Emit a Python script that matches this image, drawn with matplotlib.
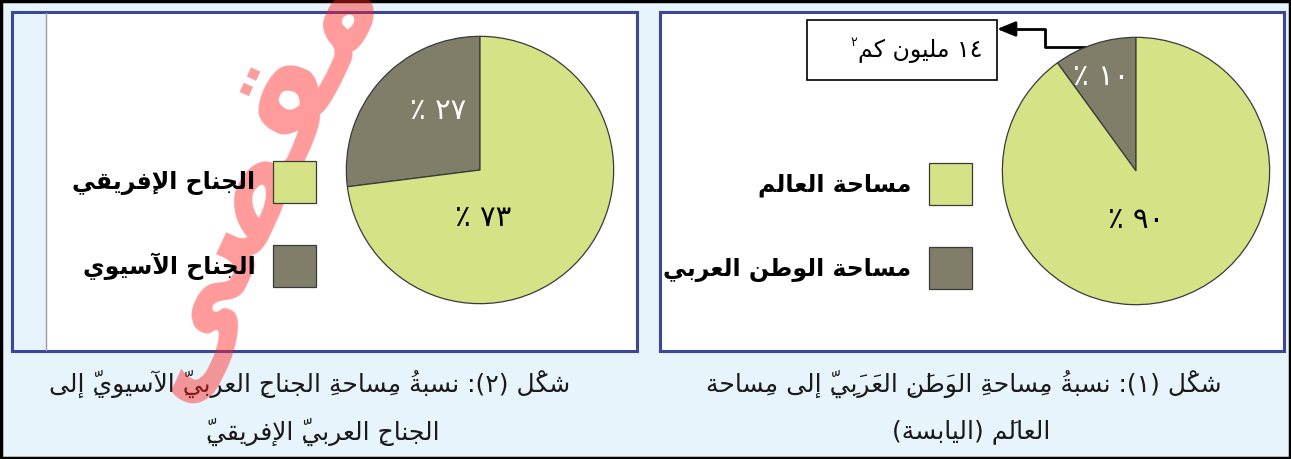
import unicodedata
import matplotlib
matplotlib.use('Agg')
import matplotlib.pyplot as plt
from matplotlib.patches import Rectangle

plt.rcParams['font.family'] = ['DejaVu Sans']

# data
fig1_labels = ['مساحة العالم', 'مساحة الوطن العربي']
fig1_values = [90, 10]
fig1_note = '١٤ مليون كم'
fig1_caption = ['شكْل (١): نسبةُ مِساحةِ الوَطَنِ العَرَبِيِّ إلى مِساحة',
                'العالَم (اليابسة)']

fig2_labels = ['الجناح الإفريقي', 'الجناح الآسيوي']
fig2_values = [73, 27]
fig2_caption = ['شكْل (٢): نسبةُ مِساحةِ الجناحِ العربيِّ الآسيويِّ إلى',
                'الجناحِ العربيِّ الإفريقيِّ']

colors = ['#d5e286', '#807d69']
bg_blue = '#e8f4fb'
frame_blue = '#3b479b'

MARKS = set(chr(c) for c in range(0x064B, 0x0653)) | {'\u0670'}
MIRROR = {'(': ')', ')': '('}


def form(ch, kind):
    try:
        return unicodedata.lookup(unicodedata.name(ch) + ' ' + kind + ' FORM')
    except (KeyError, ValueError):
        return None


def is_letter(ch):
    return unicodedata.name(ch, '').startswith('ARABIC LETTER')


def ar(text):
    # crude arabic shaping + right-to-left ordering for matplotlib
    cl = []
    for ch in text:
        if ch in MARKS and cl:
            cl[-1][1] += ch
        else:
            cl.append([ch, ''])
    n = len(cl)
    out = []
    i = 0
    while i < n:
        ch, mk = cl[i]
        if not is_letter(ch):
            out.append([ch, mk])
            i += 1
            continue
        prev = cl[i - 1][0] if i > 0 else ''
        nxt = cl[i + 1][0] if i + 1 < n else ''
        jp = bool(prev) and is_letter(prev) and form(prev, 'INITIAL') is not None \
            and form(ch, 'FINAL') is not None
        if ch == 'ل' and nxt and nxt in 'اأإآ':
            suf = unicodedata.name(nxt)[len('ARABIC LETTER '):]
            lig = unicodedata.lookup('ARABIC LIGATURE LAM WITH ' + suf + ' ' +
                                     ('FINAL' if jp else 'ISOLATED') + ' FORM')
            out.append([lig, mk + cl[i + 1][1]])
            i += 2
            continue
        jn = bool(nxt) and is_letter(nxt) and form(ch, 'INITIAL') is not None \
            and form(nxt, 'FINAL') is not None
        if jp and jn:
            g = form(ch, 'MEDIAL')
        elif jp:
            g = form(ch, 'FINAL')
        elif jn:
            g = form(ch, 'INITIAL')
        else:
            g = form(ch, 'ISOLATED')
        out.append([g or ch, mk])
        i += 1
    # group digit runs, then reverse (marks go in front of their letter)
    toks = []
    for ch, mk in out:
        if unicodedata.category(ch) == 'Nd' and toks and toks[-1][0] == 'd':
            toks[-1][1] += ch
        elif unicodedata.category(ch) == 'Nd':
            toks.append(['d', ch])
        else:
            toks.append(['c', mk + MIRROR.get(ch, ch)])
    return ''.join(t[1] for t in reversed(toks))


def ar_digits(v):
    return ''.join(chr(0x0660 + int(d)) for d in str(v))


W, H = 1291, 459
fig = plt.figure(figsize=(W / 100, H / 100), dpi=100)
fig.patch.set_facecolor(bg_blue)
bg = fig.add_axes([0, 0, 1, 1])
bg.set_xlim(0, W)
bg.set_ylim(H, 0)
bg.axis('off')

# outer border
bg.add_patch(Rectangle((1, 1), W - 2, H - 2, fill=False, ec='black', lw=2.5))

# panels
for x0, x1 in [(12, 637), (660, 1284)]:
    bg.add_patch(Rectangle((x0 + 1, 13), x1 - x0, 340, fc='#b0b0b0', ec='none'))
    bg.add_patch(Rectangle((x0, 12), x1 - x0, 339, fc='white', ec=frame_blue, lw=2.2))
bg.add_patch(Rectangle((13.5, 13.5), 32.5, 336, fc=bg_blue, ec='none'))
bg.plot([46, 46], [13, 350], color='#9a9a9a', lw=1)


def px_axes(x0, y0, x1, y1):
    return fig.add_axes([x0 / W, 1 - y1 / H, (x1 - x0) / W, (y1 - y0) / H])


def draw_pie(box, values, labels, lab_pos, txt_cols, leg_anchor):
    ax = px_axes(*box)
    wedges, _ = ax.pie(values[::-1], colors=colors[::-1], startangle=90,
                       counterclock=True,
                       wedgeprops=dict(edgecolor='#3a3a3a', linewidth=0.9))
    ax.set_xlim(-1.01, 1.01)
    ax.set_ylim(-1.01, 1.01)
    ax.set_aspect('equal')
    ax.axis('off')
    wedges = wedges[::-1]
    for v, (px, py), c in zip(values, lab_pos, txt_cols):
        ax.text(px, py, '٪ ' + ar_digits(v), ha='center', va='center',
                fontsize=21, color=c)
    fig.legend(wedges, [ar(l) for l in labels], loc='center right',
               bbox_to_anchor=(leg_anchor[0] / W, 1 - leg_anchor[1] / H),
               markerfirst=False, frameon=False, borderpad=0, borderaxespad=0,
               handlelength=1.82, handleheight=2.36, handletextpad=0.75,
               labelspacing=1.8, prop=dict(size=17, weight='bold'))
    return ax


draw_pie((345, 35, 615, 305), fig2_values, fig2_labels,
         [(0.02, -0.36), (-0.31, 0.44)], ['black', 'white'], (316, 224))
draw_pie((1001, 36, 1271, 306), fig1_values, fig1_labels,
         [(0.0, -0.37), (-0.26, 0.70)], ['black', 'white'], (972, 226))

# note box with bent arrow
bg.add_patch(Rectangle((807, 20), 190, 60, fc='white', ec='black', lw=1.2))
note = bg.text(982, 51, ar(fig1_note), ha='right', va='center', fontsize=17)
bg.annotate('٢', xy=(0, 0.85), xycoords=note, ha='right', va='center',
            fontsize=9)
bg.plot([1093, 1045, 1045, 1012], [47, 47, 29, 29], color='black', lw=2)
bg.annotate('', xy=(997, 29), xytext=(1015, 29),
            arrowprops=dict(arrowstyle='-|>,head_length=1.1,head_width=0.45',
                            color='black', lw=2, shrinkA=0, shrinkB=0))

# captions
for centers, lines in [((964, 971), fig1_caption), ((310, 323), fig2_caption)]:
    for k, (cx, line) in enumerate(zip(centers, lines)):
        bg.text(cx, 384 + 48 * k, ar(line), ha='center', va='center',
                fontsize=18, color='#1a1a1a')

# watermark
bg.text(245, 178, ar('مقصى'), rotation=65, ha='center', va='center',
        fontsize=100, color='#ff2020', alpha=0.45, weight='bold')

fig.savefig('out.png', dpi=100, facecolor=bg_blue)
